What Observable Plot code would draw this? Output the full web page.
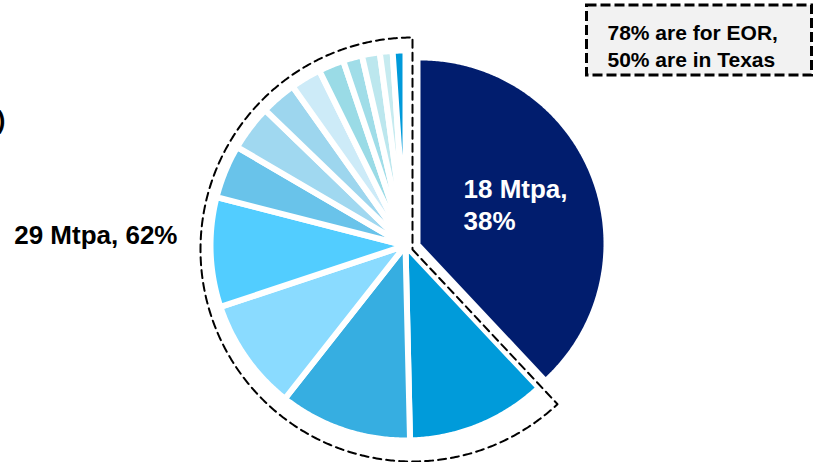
<!DOCTYPE html>
<html>
<head>
<meta charset="utf-8">
<script src="https://cdn.jsdelivr.net/npm/d3@7"></script>
<script src="https://cdn.jsdelivr.net/npm/@observablehq/plot@0.6"></script>
<style>
  html, body { margin: 0; padding: 0; background: #ffffff; }
  #wrap { position: relative; width: 833px; height: 462px; overflow: hidden; }
  #box { position: absolute; left: 0; top: 0; }
  #chart { position: absolute; left: 0; top: 0; }
</style>
</head>
<body>
<div id="wrap">
  <svg id="box" width="833" height="462">
    <rect x="586.5" y="5" width="225" height="70" fill="#f2f2f2" stroke="#000" stroke-width="3" stroke-dasharray="10,4"></rect>
  </svg>
  <div id="chart"></div>
</div>
<script>
// ---- data (Mtpa per source, in pie order, clockwise from 12 o'clock) ----
const sliceIds    = ["s1","s2","s3","s4","s5","s6","s7","s8","s9","s10","s11","s12","s13","s14"];
const mtpa        = [18, 5.5, 5.2, 4.4, 4.3, 2.1, 1.8, 1.4, 1.2, 1.0, 0.75, 0.7, 0.5, 0.5];
const sliceColors = ["#011D6E","#009BDA","#36AEE1","#8ADBFF","#52CDFF","#69C3EA","#A0D8F0",
                     "#9DD6EE","#CDEBF8","#9ADBE6","#A0DDE8","#BCE7EE","#C6EBF0","#009ADA"];
const insideLabel = ["18 Mtpa,", "38%"];
const outsideLabel = ["29 Mtpa, 62%"];
const calloutLines = ["78% are for EOR,", "50% are in Texas"];
const edgeFragment = [")"];

// ---- layout ----
const W = 833, H = 462;
const C = [405, 245], R = 195;          // main pie centre / radius
const navyC = [420, 243], navyR = 183;  // pulled-out slice
const ringC = [412, 249], ringR = 212;  // dashed outline

const arcs = d3.pie().sort(null).value(d => d)(mtpa);
const deg = Math.PI / 180;
function sector(c, r, a0, a1, id, color) {
  const pts = [{x: c[0], y: c[1], id, color}];
  const n = Math.max(2, Math.ceil((a1 - a0) / (0.5 * deg)));
  for (let i = 0; i <= n; i++) {
    const a = a0 + (a1 - a0) * i / n;
    pts.push({x: c[0] + r * Math.sin(a), y: c[1] - r * Math.cos(a), id, color});
  }
  pts.push({x: c[0], y: c[1], id, color});
  return pts;
}

const restPts = [];
arcs.forEach((a, i) => { if (i > 0) restPts.push(...sector(C, R, a.startAngle, a.endAngle, sliceIds[i], sliceColors[i])); });
const navyPts = sector(navyC, navyR, arcs[0].startAngle, arcs[0].endAngle, sliceIds[0], sliceColors[0]);
const ringPts = sector(ringC, ringR, arcs[0].endAngle, 2 * Math.PI, "ring", "none");

const font = "'Liberation Sans', Arial, Helvetica, sans-serif";
const big = 26, small = 21;
const chart = Plot.plot({
  width: W, height: H, margin: 0,
  x: {domain: [0, W], range: [0, W], axis: null},
  y: {domain: [0, H], range: [0, H], axis: null},
  color: {type: "identity"},
  style: {background: "transparent", fontFamily: font, overflow: "visible"},
  marks: [
    Plot.line(restPts, {x: "x", y: "y", z: "id", fill: "color", stroke: "white", strokeWidth: 6,
                        strokeLinejoin: "round", strokeLinecap: "round", curve: "linear"}),
    Plot.line(navyPts, {x: "x", y: "y", z: "id", fill: "color", stroke: "none", curve: "linear"}),
    Plot.line(ringPts, {x: "x", y: "y", z: "id", fill: "none", stroke: "#000", strokeWidth: 2,
                        strokeDasharray: "8,5", curve: "linear"}),
    Plot.text([insideLabel.join("\n")], {x: () => navyC[0] + 43, y: () => 193 - 0.71 * big, text: d => d,
      textAnchor: "start", lineAnchor: "top", lineHeight: 32 / big, fontSize: big, fontWeight: "bold", fill: "white"}),
    Plot.text(outsideLabel, {x: () => ringC[0] - ringR - 23, y: () => 243 - 0.71 * big, text: d => d,
      textAnchor: "end", lineAnchor: "top", fontSize: big, fontWeight: "bold", fill: "#000"}),
    Plot.text([calloutLines.join("\n")], {x: () => 607, y: () => 35 - 0.71 * small, text: d => d,
      textAnchor: "start", lineAnchor: "top", lineHeight: 27 / small, fontSize: small, fontWeight: "bold", fill: "#000"}),
    Plot.text(edgeFragment, {x: () => 5, y: () => 128 - 0.71 * big, text: d => d,
      textAnchor: "end", lineAnchor: "top", fontSize: big, fontWeight: "bold", fill: "#000"})
  ]
});
document.getElementById("chart").appendChild(chart);
</script>
</body>
</html>
